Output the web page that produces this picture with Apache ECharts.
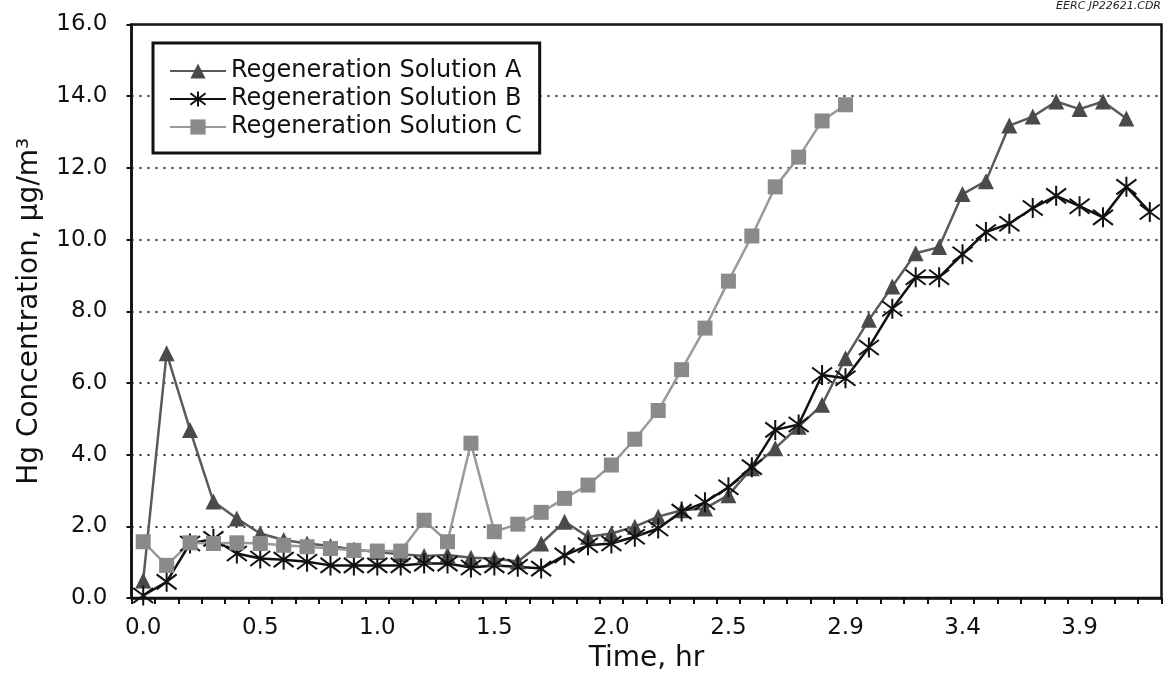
<!DOCTYPE html>
<html>
<head>
    <meta charset="UTF-8">
    <title>Hg Concentration</title>
    <script type="text/javascript" src="https://cdn.jsdelivr.net/npm/echarts@6/dist/echarts.min.js"></script>
</head>
<body style="margin:0; background-color:#ffffff;">
    <div id="chart" style="width:1169px; height:681px;"></div>
    <script>
        // time labels (one category per sample, label every 5th)
        var timeLabels = ['0.0','0.1','0.2','0.3','0.4','0.5','0.6','0.7','0.8','0.9',
            '1.0','1.1','1.2','1.3','1.4','1.5','1.6','1.7','1.8','1.9',
            '2.0','2.1','2.2','2.3','2.4','2.5','2.6','2.7','2.8','2.8',
            '2.9','3.0','3.1','3.2','3.3','3.4','3.5','3.6','3.7','3.8',
            '3.9','4.0','4.1','4.2'];

        var solutionA = [0.49, 6.83, 4.69, 2.69, 2.22, 1.80, 1.62, 1.52, 1.45, 1.35,
            1.28, 1.22, 1.17, 1.20, 1.12, 1.10, 1.02, 1.52, 2.13, 1.71,
            1.80, 1.99, 2.27, 2.45, 2.50, 2.87, 3.62, 4.18, 4.78, 5.39,
            6.69, 7.76, 8.69, 9.62, 9.79, 11.27, 11.63, 13.18, 13.43, 13.85,
            13.64, 13.85, 13.38, null];

        var solutionB = [0.07, 0.45, 1.52, 1.65, 1.24, 1.10, 1.07, 1.01, 0.91, 0.91,
            0.91, 0.91, 0.96, 0.96, 0.85, 0.91, 0.87, 0.82, 1.19, 1.47,
            1.52, 1.71, 1.94, 2.41, 2.67, 3.09, 3.65, 4.69, 4.84, 6.22,
            6.13, 6.99, 8.07, 8.95, 8.95, 9.59, 10.21, 10.44, 10.88, 11.22,
            10.93, 10.62, 11.47, 10.77];

        var solutionC = [1.57, 0.91, 1.54, 1.52, 1.54, 1.52, 1.47, 1.43, 1.38, 1.33,
            1.31, 1.31, 2.17, 1.57, 4.32, 1.85, 2.06, 2.39, 2.78, 3.15,
            3.71, 4.43, 5.23, 6.37, 7.53, 8.84, 10.1, 11.47, 12.30, 13.31,
            13.76, null, null, null, null, null, null, null, null, null,
            null, null, null, null];

        var seriesNames = ['Regeneration Solution A', 'Regeneration Solution B', 'Regeneration Solution C'];

        var font = 'DejaVu Sans';
        var asterisk = 'path://M10,0L10,20M2.5,2.5L17.5,17.5M2.5,17.5L17.5,2.5';

        var chart = echarts.init(document.getElementById('chart'), null, {renderer: 'canvas'});

        var option = {
            animation: false,
            backgroundColor: '#ffffff',
            title: {
                text: 'EERC JP22621.CDR',
                right: 8,
                top: 1,
                padding: 0,
                textStyle: {fontFamily: font, fontSize: 11, fontStyle: 'italic', fontWeight: 'normal', color: '#222'}
            },
            grid: {
                left: 131.5,
                right: 7.5,
                top: 24.5,
                bottom: 83,
                show: true,
                borderColor: '#111',
                borderWidth: 2.5,
                backgroundColor: 'transparent'
            },
            legend: {
                data: seriesNames,
                orient: 'vertical',
                left: 153,
                top: 43,
                padding: [16, 18, 14, 16],
                itemGap: 4,
                itemWidth: 56,
                itemHeight: 19,
                backgroundColor: '#ffffff',
                borderColor: '#111',
                borderWidth: 3,
                textStyle: {fontFamily: font, fontSize: 24, color: '#111'}
            },
            xAxis: {
                type: 'category',
                data: timeLabels,
                boundaryGap: true,
                name: 'Time, hr',
                nameLocation: 'middle',
                nameGap: 46,
                nameTextStyle: {fontFamily: font, fontSize: 28, color: '#111'},
                axisLine: {lineStyle: {color: '#111', width: 2.5}},
                axisTick: {show: true, interval: 0, alignWithLabel: false, length: 6, lineStyle: {color: '#111', width: 2}},
                axisLabel: {interval: 4, margin: 19, fontFamily: font, fontSize: 23, color: '#111'},
                splitLine: {show: false}
            },
            yAxis: {
                type: 'value',
                min: 0,
                max: 16,
                interval: 2,
                name: 'Hg Concentration, \u03bcg/m\u00b3',
                nameLocation: 'middle',
                nameGap: 88,
                nameTextStyle: {fontFamily: font, fontSize: 28, color: '#111'},
                axisLine: {show: true, lineStyle: {color: '#111', width: 2.5}},
                axisTick: {show: true, length: 5, lineStyle: {color: '#111', width: 2}},
                axisLabel: {
                    margin: 24,
                    fontFamily: font,
                    fontSize: 23,
                    color: '#111',
                    formatter: function (v) { return v.toFixed(1); }
                },
                splitLine: {show: true, lineStyle: {color: '#333', width: 2, type: [2, 6]}}
            },
            series: [
                {
                    name: seriesNames[0],
                    type: 'line',
                    data: solutionA,
                    symbol: 'triangle',
                    symbolSize: 16,
                    showAllSymbol: true,
                    connectNulls: false,
                    lineStyle: {color: '#5a5a5a', width: 2.5},
                    itemStyle: {color: '#4a4a4a'}
                },
                {
                    name: seriesNames[1],
                    type: 'line',
                    data: solutionB,
                    symbol: asterisk,
                    symbolSize: 20,
                    showAllSymbol: true,
                    lineStyle: {color: '#111', width: 2.5},
                    itemStyle: {color: '#111', borderColor: '#111', borderWidth: 2}
                },
                {
                    name: seriesNames[2],
                    type: 'line',
                    data: solutionC,
                    symbol: 'rect',
                    symbolSize: 15,
                    showAllSymbol: true,
                    lineStyle: {color: '#9a9a9a', width: 2.5},
                    itemStyle: {color: '#8a8a8a'}
                }
            ]
        };

        chart.setOption(option);
    </script>
</body>
</html>
